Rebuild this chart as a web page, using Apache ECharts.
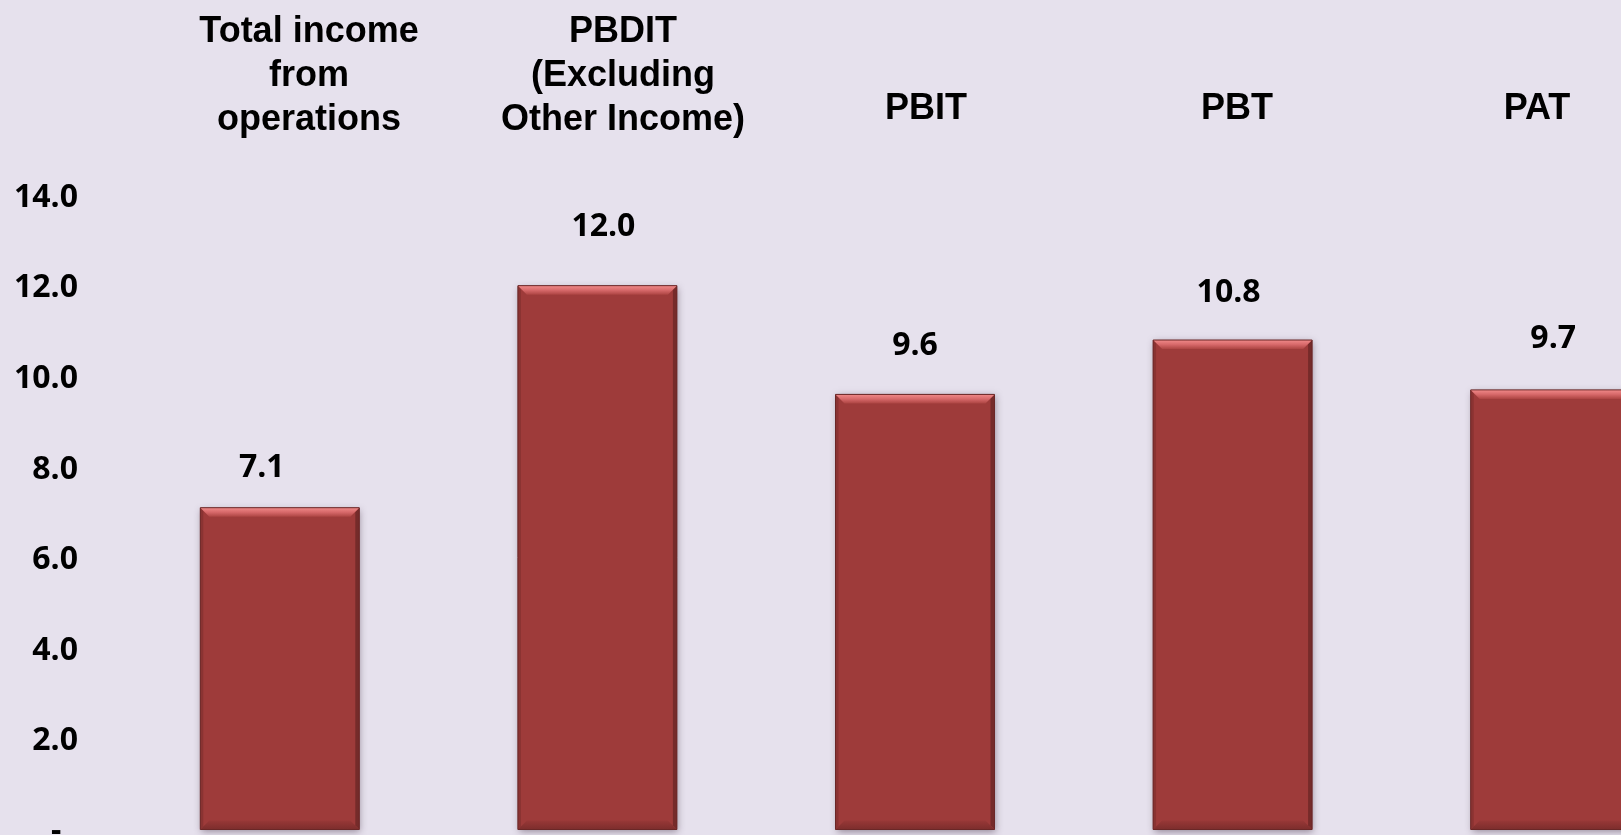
<!DOCTYPE html>
<html>
<head>
<meta charset="utf-8">
<script src="https://cdn.jsdelivr.net/npm/echarts@6/dist/echarts.min.js"></script>
<style>
html, body { margin: 0; padding: 0; background: #e6e1ed; }
#chart { width: 1621px; height: 835px; }
</style>
</head>
<body>
<div id="chart"></div>
<script>
var categories = ['Total income\nfrom\noperations', 'PBDIT\n(Excluding\nOther Income)', 'PBIT', 'PBT', 'PAT'];
var values = [7.1, 12.0, 9.6, 10.8, 9.7];
var yMin = 0, yMax = 14, yStep = 2;

// value labels were placed by hand in the original, nudge them the same way
var labelGap = [24, 43, 33, 31, 35];
var labelDx = [-18, 6, 0, -4, 3];
// category titles sit a little off a regular spacing
var titleDx = [0, 7, 3, 7, 0];

var BAR_W = 159;
var BEVEL = 9;

var chart = echarts.init(document.getElementById('chart'));

// bevel drawn over each bar, from the same values
function bevel(params, api) {
	var top = api.coord([api.value(0), api.value(1)]);
	var base = api.coord([api.value(0), 0]);
	var x0 = top[0] - BAR_W / 2, x1 = top[0] + BAR_W / 2;
	var y0 = top[1], y1 = base[1], b = BEVEL;
	return {
		type: 'group',
		children: [
			{ type: 'polygon', shape: { points: [[x0, y0], [x0 + 3, y0 + 3], [x0 + 3, y1 - 3], [x0, y1]] }, style: { fill: '#8a3332' } },
			{ type: 'polygon', shape: { points: [[x1, y0], [x1, y1], [x1 - 4, y1 - 4], [x1 - 4, y0 + 4]] }, style: { fill: '#752b2a' } },
			{ type: 'polygon', shape: { points: [[x0, y1], [x0 + b, y1 - b], [x1 - b, y1 - b], [x1, y1]] },
				style: { fill: new echarts.graphic.LinearGradient(0, 0, 0, 1, [
					{ offset: 0, color: '#983837' }, { offset: 1, color: '#7c2d2c' }]) } },
			{ type: 'polygon', shape: { points: [[x0, y0], [x1, y0], [x1 - b, y0 + b], [x0 + b, y0 + b]] },
				style: { fill: new echarts.graphic.LinearGradient(0, 0, 0, 1, [
					{ offset: 0, color: '#f08a89' }, { offset: 0.5, color: '#d7696a' }, { offset: 1, color: '#ad4543' }]) } },
			{ type: 'rect', shape: { x: x0, y: y0, width: BAR_W, height: y1 - y0 }, style: { fill: 'none', stroke: '#6a2727', lineWidth: 1 } }
		]
	};
}

var barData = values.map(function(v, i) {
	return { value: v, label: { distance: labelGap[i], offset: [labelDx[i], 0] } };
});

var titleData = categories.map(function(c, i) {
	var one = c.indexOf('\n') < 0;
	return {
		value: c,
		textStyle: { padding: [0, 0, one ? 11 : 0, titleDx[i] * 2] }
	};
});

var option = {
	backgroundColor: '#e6e1ed',
	animation: false,
	grid: [
		{ left: 121, right: -88, top: 195, bottom: 5.5, outerBoundsMode: 'none' },
		{ left: 155.5, right: -69.5, top: 144, height: 20, outerBoundsMode: 'none' }
	],
	xAxis: [
		{ type: 'category', gridIndex: 0, data: categories, show: false },
		{
			type: 'category', gridIndex: 1, data: titleData, position: 'top',
			axisLine: { show: false }, axisTick: { show: false },
			axisLabel: {
				interval: 0, margin: 2, color: '#000',
				fontFamily: 'Liberation Sans', fontWeight: 'bold', fontSize: 36, lineHeight: 44
			}
		}
	],
	yAxis: [
		{
			type: 'value', gridIndex: 0, min: yMin, max: yMax, interval: yStep,
			axisLine: { show: false }, axisTick: { show: false }, splitLine: { show: false },
			axisLabel: {
				margin: 43, color: '#000', fontFamily: 'Open Sans', fontWeight: 'bold', fontSize: 32,
				formatter: function(v) { return '{v|' + (v === 0 ? '-\u00a0\u00a0' : v.toFixed(1)) + '}'; },
				rich: {
					v: { color: '#000', fontFamily: 'Open Sans', fontWeight: 'bold', fontSize: 32, padding: [5, 0, 0, 0] }
				}
			}
		},
		{ type: 'value', gridIndex: 1, show: false }
	],
	series: [
		{
			type: 'bar', xAxisIndex: 0, yAxisIndex: 0, data: barData, barWidth: BAR_W,
			itemStyle: {
				color: '#9e3b3a',
				shadowColor: 'rgba(70, 50, 70, 0.5)', shadowBlur: 7, shadowOffsetX: 1, shadowOffsetY: 2
			},
			label: {
				show: true, position: 'top', color: '#000',
				fontFamily: 'Open Sans', fontWeight: 'bold', fontSize: 32,
				formatter: function(p) { return p.value.toFixed(1); }
			}
		},
		{
			type: 'custom', xAxisIndex: 0, yAxisIndex: 0, silent: true, z: 3,
			renderItem: bevel,
			data: values.map(function(v, i) { return [i, v]; })
		}
	]
};

chart.setOption(option);
</script>
</body>
</html>
